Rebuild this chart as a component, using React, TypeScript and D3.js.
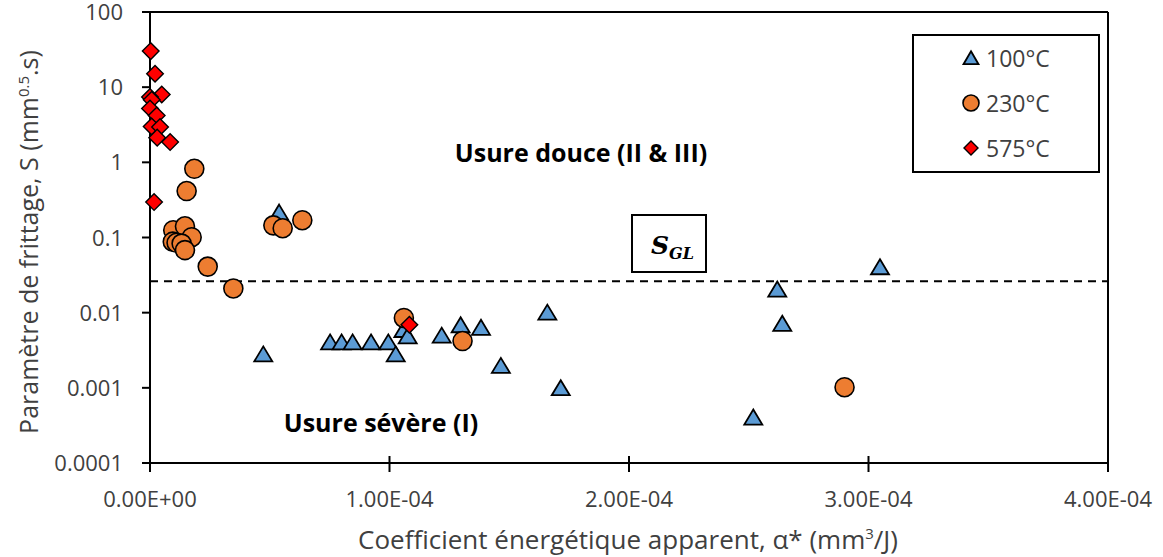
import React from 'react';
import * as d3 from 'd3';

// alpha* (mm3/J), S (mm^0.5.s)
const serie100: [number, number][] = [
  [5.39e-5, 0.208],
  [4.73e-5, 0.0027],
  [7.52e-5, 0.0039],
  [8.0e-5, 0.0039],
  [8.46e-5, 0.0039],
  [9.23e-5, 0.0039],
  [9.95e-5, 0.0039],
  [1.026e-4, 0.0027],
  [1.058e-4, 0.0057],
  [1.076e-4, 0.0047],
  [1.218e-4, 0.0048],
  [1.297e-4, 0.0066],
  [1.382e-4, 0.0061],
  [1.465e-4, 0.0019],
  [1.659e-4, 0.0097],
  [1.715e-4, 0.00096],
  [2.519e-4, 0.00039],
  [2.619e-4, 0.0197],
  [2.64e-4, 0.0069],
  [3.048e-4, 0.039],
];

const serie230: [number, number][] = [
  [1.85e-5, 0.82],
  [1.53e-5, 0.415],
  [0.97e-5, 0.125],
  [1.46e-5, 0.141],
  [1.74e-5, 0.101],
  [0.95e-5, 0.088],
  [1.11e-5, 0.085],
  [1.32e-5, 0.083],
  [1.46e-5, 0.068],
  [2.41e-5, 0.041],
  [5.15e-5, 0.145],
  [5.54e-5, 0.133],
  [6.36e-5, 0.17],
  [3.48e-5, 0.021],
  [1.06e-4, 0.0085],
  [1.305e-4, 0.0042],
  [2.9e-4, 0.00102],
];

const serie575: [number, number][] = [
  [0.3e-6, 30.2],
  [2.1e-6, 15.1],
  [4.9e-6, 8.0],
  [0.0, 7.4],
  [0.7e-6, 6.8],
  [0.0, 5.2],
  [2.8e-6, 4.2],
  [0.7e-6, 3.0],
  [4.2e-6, 2.95],
  [3.0e-6, 2.13],
  [8.4e-6, 1.86],
  [1.7e-6, 0.296],
  [1.083e-4, 0.0069],
];

const seuilSGL = 0.0262;

const xTicks = [0, 1e-4, 2e-4, 3e-4, 4e-4];
const yTicks = [100, 10, 1, 0.1, 0.01, 0.001, 0.0001];
const yTickLabels = ['100', '10', '1', '0.1', '0.01', '0.001', '0.0001'];
const legendLabels = ['100°C', '230°C', '575°C'];

const font = "'Open Sans', sans-serif";

const W = 1163;
const H = 557;
const left = 150;
const right = 1108;
const top = 12;
const bottom = 463;

const fmtSci = (v: number) => {
  if (v === 0) return '0.00E+00';
  const [m, e] = d3.format('.2e')(v).split('e');
  const n = +e;
  return `${m}E${n < 0 ? '-' : '+'}${String(Math.abs(n)).padStart(2, '0')}`;
};

const triPath = (w: number, h: number) =>
  `M0,${-h * 0.6}L${w / 2},${h * 0.4}L${-w / 2},${h * 0.4}Z`;
const diaPath = (r: number) => `M0,${-r}L${r},0L0,${r}L${-r},0Z`;

const App = () => {
  const x = d3.scaleLinear().domain([0, 4e-4]).range([left, right]);
  const y = d3.scaleLog().domain([0.0001, 100]).range([bottom, top]);

  const tri = (cx: number, cy: number, w: number, h: number, key: any) => (
    <path
      key={key}
      d={triPath(w, h)}
      transform={`translate(${cx},${cy})`}
      fill='#5B9BD5'
      stroke='#000'
      strokeWidth={1.8}
    />
  );
  const circ = (cx: number, cy: number, r: number, key: any) => (
    <circle key={key} cx={cx} cy={cy} r={r} fill='#ED7D31' stroke='#000' strokeWidth={1.6} />
  );
  const dia = (cx: number, cy: number, r: number, key: any) => (
    <path
      key={key}
      d={diaPath(r)}
      transform={`translate(${cx},${cy})`}
      fill='#FF0000'
      stroke='#000'
      strokeWidth={1.4}
    />
  );

  return (
    <svg width={W} height={H} style={{ position: 'absolute', left: 0, top: 0 }}>
      <rect width={W} height={H} fill='#fff' />

      {/* seuil S_GL */}
      <line
        x1={left}
        x2={right}
        y1={y(seuilSGL)}
        y2={y(seuilSGL)}
        stroke='#000'
        strokeWidth={2}
        strokeDasharray='8,6'
      />

      {/* axes */}
      <line x1={left} x2={right} y1={top} y2={top} stroke='#000' strokeWidth={2} />
      <line x1={right} x2={right} y1={top} y2={bottom} stroke='#000' strokeWidth={2} />
      <line x1={left} x2={left} y1={top} y2={bottom} stroke='#000' strokeWidth={2} />
      <line x1={left} x2={right} y1={bottom} y2={bottom} stroke='#000' strokeWidth={2} />

      {yTicks.map((t, i) => (
        <g key={'yt' + i}>
          <line x1={left - 8} x2={left} y1={y(t)} y2={y(t)} stroke='#000' strokeWidth={2} />
          <text
            x={123}
            y={y(t) + 8}
            textAnchor='end'
            fontFamily={font}
            fontSize={22}
            fill='#404040'
          >
            {yTickLabels[i]}
          </text>
        </g>
      ))}

      {xTicks.map((t, i) => (
        <g key={'xt' + i}>
          <line x1={x(t)} x2={x(t)} y1={bottom - 7} y2={bottom + 9} stroke='#000' strokeWidth={2} />
          <text
            x={x(t)}
            y={bottom + 44}
            textAnchor='middle'
            fontFamily={font}
            fontSize={22}
            fill='#404040'
          >
            {fmtSci(t)}
          </text>
        </g>
      ))}

      {/* titres */}
      <text
        transform={`translate(38, 242) rotate(-90)`}
        textAnchor='middle'
        fontFamily={font}
        fontSize={25}
        fill='#404040'
      >
        Paramètre de frittage, S (mm
        <tspan fontSize={15} dy={-9}>0.5</tspan>
        <tspan dy={9}>.s)</tspan>
      </text>
      <text
        x={628}
        y={549}
        textAnchor='middle'
        fontFamily={font}
        fontSize={26}
        fill='#404040'
      >
        Coefficient énergétique apparent, α* (mm
        <tspan fontSize={15} dy={-10}>3</tspan>
        <tspan dy={10}>/J)</tspan>
      </text>

      {/* zones */}
      <text x={581} y={152} textAnchor='middle' dominantBaseline='central' fontFamily={font} fontSize={25} fontWeight='bold'>
        Usure douce (II &amp; III)
      </text>
      <text x={381} y={422} textAnchor='middle' dominantBaseline='central' fontFamily={font} fontSize={25} fontWeight='bold'>
        Usure sévère (I)
      </text>

      <rect x={632} y={215} width={74} height={57} fill='#fff' stroke='#000' strokeWidth={2} />
      <text x={651} y={254} fontFamily="'DejaVu Serif', 'Liberation Serif', serif" fontStyle='italic' fontWeight='bold' fontSize={25}>
        S
        <tspan fontSize={16} dy={5}>GL</tspan>
      </text>

      {/* données */}
      <g>{serie100.map((d, i) => tri(x(d[0]), y(d[1]), 18, 15, 'a' + i))}</g>
      <g>{serie230.map((d, i) => circ(x(d[0]), y(d[1]), 9.5, 'b' + i))}</g>
      <g>{serie575.map((d, i) => dia(x(d[0]), y(d[1]), 8.3, 'c' + i))}</g>

      {/* légende */}
      <rect x={913} y={35} width={186} height={137} fill='#fff' stroke='#000' strokeWidth={2} />
      {legendLabels.map((lab, i) => {
        const ly = 58 + i * 45;
        return (
          <g key={'lg' + i}>
            {i === 0 && tri(971, ly + 1, 15, 13, 'l0')}
            {i === 1 && circ(971, ly, 8, 'l1')}
            {i === 2 && dia(971, ly, 7, 'l2')}
            <text x={986} y={ly} dominantBaseline='central' fontFamily={font} fontSize={23} fill='#404040'>
              {lab}
            </text>
          </g>
        );
      })}
    </svg>
  );
};

export default App;
